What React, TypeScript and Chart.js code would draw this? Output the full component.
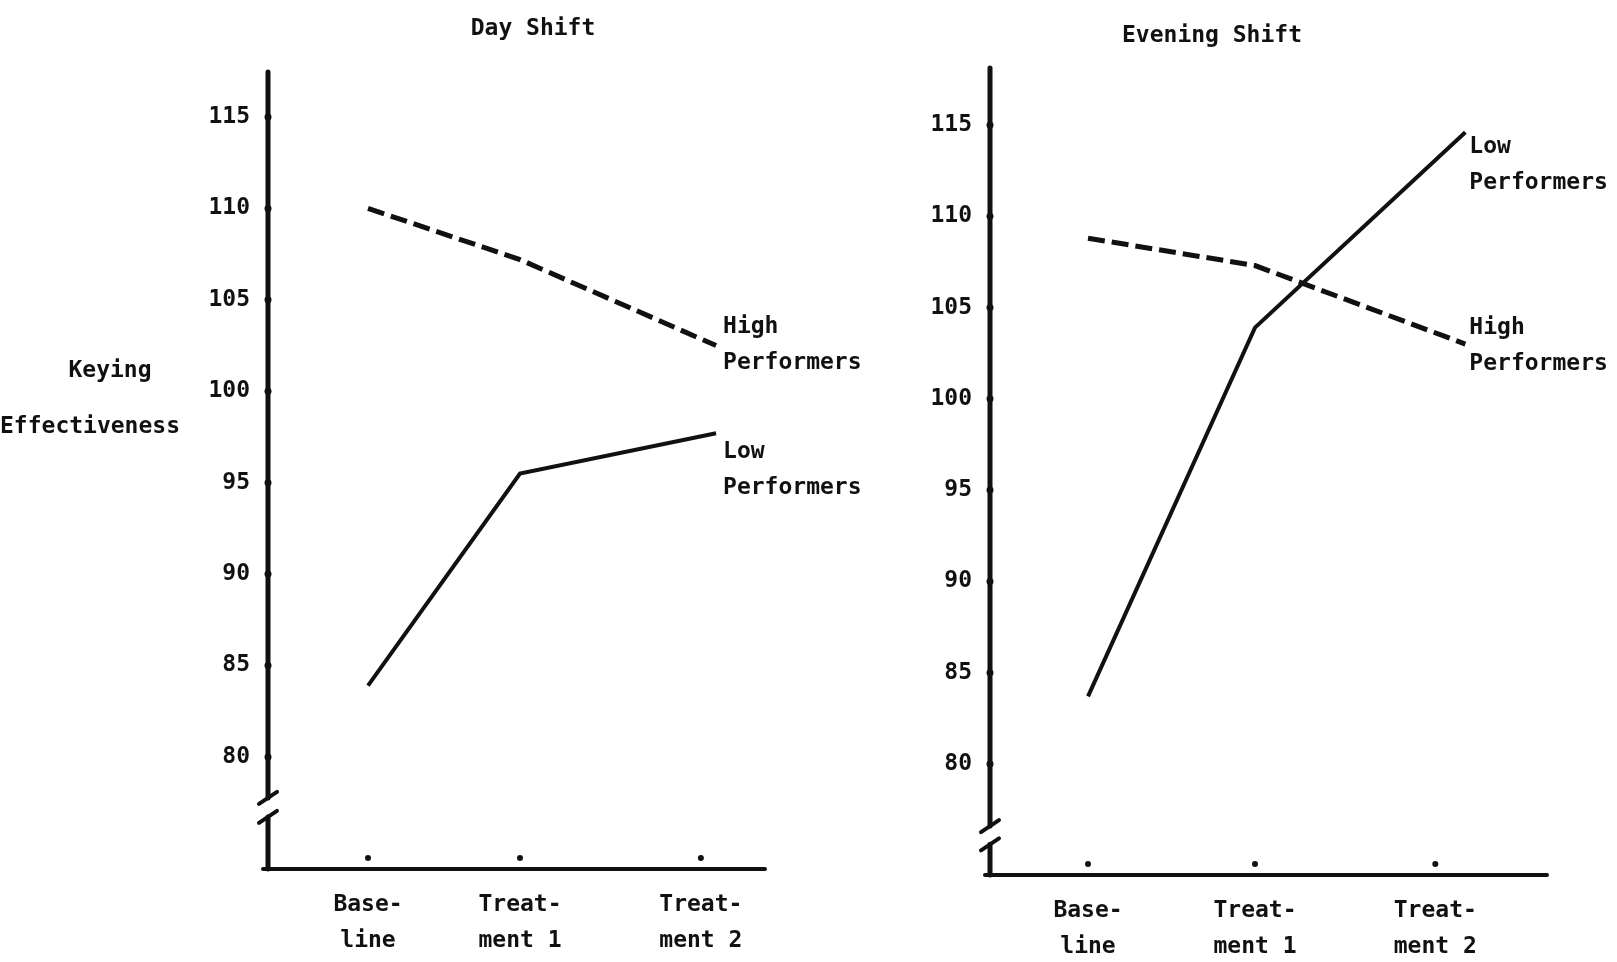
import React, { useEffect, useRef } from "react";
import { Chart, registerables } from "chart.js";

Chart.register(...registerables);

// ---------- data ----------
const categories: string[][] = [
  ["Base-", "line"],
  ["Treat-", "ment 1"],
  ["Treat-", "ment 2"],
];
const yTicks = [80, 85, 90, 95, 100, 105, 110, 115];

// occasion positions on the x scale (ticks) and where each series' points sit
const dayTickX = [1, 2, 3.19];
const dayPointX = [1, 2, 3.29];
const dayHigh = [110.0, 107.2, 102.5];
const dayLow = [83.9, 95.5, 97.7];

const eveTickX = [1, 2, 3.08];
const evePointX = [1, 2, 3.26];
const eveHigh = [108.8, 107.3, 103.0];
const eveLow = [83.7, 103.9, 114.6];

const highLabel = ["High", "Performers"];
const lowLabel = ["Low", "Performers"];
const yTitle = ["Keying", "Effectiveness"];

// ---------- styling ----------
const INK = "#111111";
const FAMILY = '"DejaVu Sans Mono", "Liberation Mono", monospace';
const FONT = `bold 23px ${FAMILY}`;

type Panel = {
  title: string;
  tickX: number[];
  pointX: number[];
  high: number[];
  low: number[];
  xMin: number;
  xMax: number;
  yMin: number;
  yMax: number;
  breakHi: number;
  breakLo: number;
  canvasLeft: number;
  canvasWidth: number;
  padTop: number;
  padRight: number;
  yAxisWidth: number;
  xAxisHeight: number;
  titleX: number;
  titleBaseline: number;
  showYTitle: boolean;
  labelDx: number;
  highDy: number;
  lowDy: number;
};

const panels: Panel[] = [
  {
    title: "Day Shift",
    tickX: dayTickX,
    pointX: dayPointX,
    high: dayHigh,
    low: dayLow,
    xMin: 0.342,
    xMax: 3.612,
    yMin: 73.87,
    yMax: 117.46,
    breakHi: 77.76,
    breakLo: 76.72,
    canvasLeft: 0,
    canvasWidth: 900,
    padTop: 72,
    padRight: 135,
    yAxisWidth: 268,
    xAxisHeight: 93,
    titleX: 533,
    titleBaseline: 35,
    showYTitle: true,
    labelDx: 7,
    highDy: -13,
    lowDy: 25,
  },
  {
    title: "Evening Shift",
    tickX: eveTickX,
    pointX: evePointX,
    high: eveHigh,
    low: eveLow,
    xMin: 0.413,
    xMax: 3.749,
    yMin: 73.92,
    yMax: 118.12,
    breakHi: 76.6,
    breakLo: 75.6,
    canvasLeft: 808,
    canvasWidth: 809,
    padTop: 68,
    padRight: 70,
    yAxisWidth: 182,
    xAxisHeight: 87,
    titleX: 404,
    titleBaseline: 42,
    showYTitle: false,
    labelDx: 4,
    highDy: -10,
    lowDy: 21,
  },
];

function makeDecor(p: Panel) {
  return {
    id: "decor",
    afterDraw(chart: any) {
      const ctx: CanvasRenderingContext2D = chart.ctx;
      const xs = chart.scales.x;
      const ys = chart.scales.y;
      const { left, right, top, bottom } = chart.chartArea;
      const seg = (x1: number, y1: number, x2: number, y2: number) => {
        ctx.beginPath();
        ctx.moveTo(x1, y1);
        ctx.lineTo(x2, y2);
        ctx.stroke();
      };
      const dot = (x: number, y: number, r: number) => {
        ctx.beginPath();
        ctx.arc(x, y, r, 0, Math.PI * 2);
        ctx.fill();
      };
      ctx.save();
      ctx.strokeStyle = INK;
      ctx.fillStyle = INK;
      ctx.lineCap = "round";

      // y axis with break
      const yb1 = ys.getPixelForValue(p.breakHi);
      const yb2 = ys.getPixelForValue(p.breakLo);
      ctx.lineWidth = 5;
      seg(left, top, left, yb1);
      seg(left, yb2, left, bottom);
      ctx.lineWidth = 4;
      seg(left - 9, yb1 + 6, left + 9, yb1 - 6);
      seg(left - 9, yb2 + 6, left + 9, yb2 - 6);

      // x axis
      ctx.lineWidth = 4;
      seg(left - 5, bottom, right, bottom);

      // tick dots
      yTicks.forEach((v) => dot(left, ys.getPixelForValue(v), 3.5));
      p.tickX.forEach((v) => dot(xs.getPixelForValue(v), bottom - 11, 3));

      // texts
      ctx.font = FONT;
      ctx.textBaseline = "alphabetic";
      ctx.textAlign = "center";
      ctx.fillText(p.title, p.titleX, p.titleBaseline);

      if (p.showYTitle) {
        ctx.textAlign = "center";
        ctx.fillText(yTitle[0], 110, 377);
        ctx.textAlign = "left";
        ctx.fillText(yTitle[1], 0, 433);
      }

      const last = p.pointX.length - 1;
      const drawLabel = (lines: string[], xv: number, yv: number, dy: number) => {
        const px = xs.getPixelForValue(xv) + p.labelDx;
        const py = ys.getPixelForValue(yv) + dy;
        ctx.textAlign = "left";
        lines.forEach((t, i) => ctx.fillText(t, px, py + i * 36));
      };
      drawLabel(highLabel, p.pointX[last], p.high[last], p.highDy);
      drawLabel(lowLabel, p.pointX[last], p.low[last], p.lowDy);

      ctx.restore();
    },
  };
}

function PanelChart({ p }: { p: Panel }) {
  const ref = useRef<HTMLCanvasElement | null>(null);
  useEffect(() => {
    if (!ref.current) return;
    const tickFont = { family: FAMILY, size: 23, weight: "bold" as const, lineHeight: "36px" };
    const chart = new Chart(ref.current, {
      type: "line",
      data: {
        datasets: [
          {
            label: "High Performers",
            data: p.pointX.map((x, i) => ({ x, y: p.high[i] })),
            borderColor: INK,
            borderWidth: 5,
            borderDash: [17, 7],
            pointRadius: 0,
            tension: 0,
            fill: false,
          },
          {
            label: "Low Performers",
            data: p.pointX.map((x, i) => ({ x, y: p.low[i] })),
            borderColor: INK,
            borderWidth: 4,
            pointRadius: 0,
            tension: 0,
            fill: false,
          },
        ],
      },
      options: {
        responsive: false,
        animation: false,
        devicePixelRatio: 1,
        layout: { padding: { top: p.padTop, right: p.padRight, left: 0, bottom: 0 } },
        plugins: {
          legend: { display: false },
          tooltip: { enabled: false },
          title: { display: false },
        },
        scales: {
          x: {
            type: "linear",
            min: p.xMin,
            max: p.xMax,
            grid: { display: false, drawTicks: false },
            border: { display: false },
            afterBuildTicks: (s: any) => {
              s.ticks = p.tickX.map((v) => ({ value: v }));
            },
            afterFit: (s: any) => {
              s.height = p.xAxisHeight;
            },
            ticks: {
              autoSkip: false,
              maxRotation: 0,
              minRotation: 0,
              padding: 18,
              color: INK,
              font: tickFont,
              callback: (_v: any, i: number) => categories[i],
            },
          },
          y: {
            type: "linear",
            min: p.yMin,
            max: p.yMax,
            grid: { display: false, drawTicks: false },
            border: { display: false },
            afterBuildTicks: (s: any) => {
              s.ticks = yTicks.map((v) => ({ value: v }));
            },
            afterFit: (s: any) => {
              s.width = p.yAxisWidth;
            },
            ticks: {
              autoSkip: false,
              padding: 18,
              color: INK,
              font: { family: FAMILY, size: 23, weight: "bold" as const },
              callback: (v: any) => String(v),
            },
          },
        },
      },
      plugins: [makeDecor(p)],
    } as any);
    return () => chart.destroy();
  }, [p]);
  return (
    <canvas
      ref={ref}
      width={p.canvasWidth}
      height={962}
      style={{ position: "absolute", left: p.canvasLeft, top: 0, width: p.canvasWidth, height: 962, display: "block" }}
    />
  );
}

export default function App() {
  return (
    <div style={{ position: "absolute", left: 0, top: 0, width: 1617, height: 962, background: "#ffffff", overflow: "hidden" }}>
      {panels.map((p) => (
        <PanelChart key={p.title} p={p} />
      ))}
    </div>
  );
}
